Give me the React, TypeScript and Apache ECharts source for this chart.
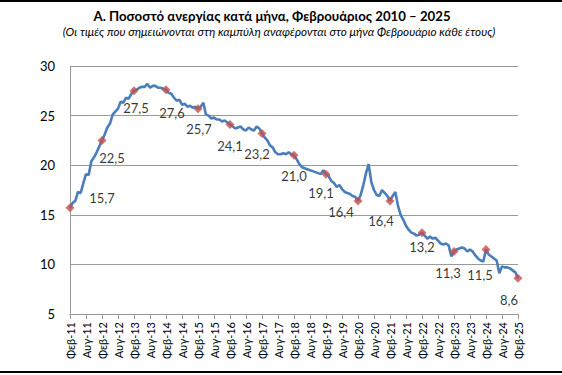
import React, { useEffect, useRef } from "react";
import * as echarts from "echarts";

// Monthly unemployment rate (%), Feb 2011 .. Feb 2025
const unemployment: number[] = [
  // Feb11 - Jan12
  15.7, 16.2, 16.4, 17.3, 17.2, 18.2, 19.1, 19.0, 20.4, 20.8, 21.3, 21.9,
  // Feb12 - Jan13
  22.5, 23.1, 23.8, 24.2, 25.1, 25.4, 25.7, 26.4, 26.3, 26.8, 26.7, 27.2,
  // Feb13 - Jan14
  27.5, 27.6, 27.8, 27.9, 27.9, 28.2, 27.8, 28.0, 28.0, 27.8, 27.8, 27.7,
  // Feb14 - Jan15
  27.6, 27.3, 27.2, 26.8, 26.5, 26.6, 26.1, 26.2, 25.9, 26.0, 25.8, 25.9,
  // Feb15 - Jan16
  25.7, 25.9, 26.3, 25.1, 25.0, 24.7, 24.8, 24.6, 24.6, 24.4, 24.5, 24.3,
  // Feb16 - Jan17
  24.1, 23.9, 23.7, 23.8, 23.9, 23.6, 23.5, 23.8, 23.6, 23.5, 23.9, 23.7,
  // Feb17 - Jan18
  23.2, 22.8, 22.5, 22.0, 21.8, 21.3, 21.1, 21.1, 21.2, 21.1, 21.3, 21.1,
  // Feb18 - Jan19
  21.0, 20.6, 20.1, 19.8, 19.7, 19.6, 19.5, 19.4, 19.3, 19.2, 19.1, 19.5,
  // Feb19 - Jan20
  19.1, 18.9, 18.4, 18.2, 17.8, 18.0, 17.6, 17.3, 17.2, 17.1, 16.9, 16.8,
  // Feb20 - Jan21
  16.4, 17.0, 18.0, 19.2, 20.1, 18.3, 17.5, 17.0, 16.9, 17.5, 17.2, 16.9,
  // Feb21 - Jan22
  16.4, 16.9, 17.3, 15.9, 15.0, 14.5, 13.9, 13.5, 13.2, 13.1, 12.9, 13.0,
  // Feb22 - Jan23
  13.2, 12.9, 12.6, 12.8, 12.6, 12.7, 12.4, 12.1, 12.0, 12.1, 11.9, 10.8,
  // Feb23 - Jan24
  11.3, 11.5, 11.6, 11.7, 11.6, 11.3, 11.5, 11.3, 10.9, 10.6, 10.4, 10.3,
  // Feb24 - Jan25
  11.5, 11.0, 10.8, 10.6, 10.4, 9.1, 9.8, 9.7, 9.7, 9.6, 9.4, 9.2,
  // Feb25
  8.6,
];

const monthNames = ["Ιαν", "Φεβ", "Μαρ", "Απρ", "Μαΐ", "Ιουν", "Ιουλ", "Αυγ", "Σεπ", "Οκτ", "Νοε", "Δεκ"];
const categories: string[] = unemployment.map((_, m) => {
  const k = m + 1;
  const yy = 11 + Math.floor(k / 12);
  return `${monthNames[k % 12]}-${yy}`;
});

// label offsets for February markers
const febLabelOffsets: [number, number][] = [
  [32, -10], [10, 18], [2, 17], [6, 23], [1, 20], [0, 21], [-5, 21], [0, 21],
  [-5, 19], [-17, 11], [-9, 20], [0, 14], [-6, 21], [-6, 25], [-9, 22],
];

const yTicks = { min: 5, max: 30, interval: 5 };

const titleText = "Α. Ποσοστό ανεργίας κατά μήνα, Φεβρουάριος 2010 – 2025";
const subtitleText = "(Οι τιμές που σημειώνονται στη καμπύλη αναφέρονται στο μήνα Φεβρουάριο κάθε έτους)";

export default function App() {
  const ref = useRef<HTMLDivElement>(null);
  useEffect(() => {
    if (!ref.current) return;
    const chart = echarts.init(ref.current, undefined, { renderer: "svg" });
    const febPoints = unemployment
      .map((v, i) => ({ v, i }))
      .filter((p) => p.i % 12 === 0)
      .map((p, k) => ({
        value: [p.i, p.v],
        label: { offset: febLabelOffsets[k] },
      }));
    const font = "Lato, 'Open Sans', sans-serif";
    chart.setOption({
      animation: false,
      textStyle: { fontFamily: font },
      title: [
        {
          text: titleText,
          left: 267,
          textAlign: "center",
          top: 4,
          textStyle: { fontFamily: font, fontSize: 13.2, fontWeight: "bold", color: "#000" },
        },
        {
          text: subtitleText,
          left: 274,
          textAlign: "center",
          top: 20,
          textStyle: { fontFamily: font, fontSize: 11.7, fontStyle: "italic", fontWeight: "normal", color: "#000" },
        },
      ],
      grid: { left: 70, right: 44, top: 66, bottom: 61 },
      xAxis: {
        type: "category",
        data: categories,
        boundaryGap: false,
        axisLine: { lineStyle: { color: "#9a9a9a", width: 1 } },
        axisTick: { interval: 5, length: 5, lineStyle: { color: "#9a9a9a" } },
        axisLabel: {
          interval: 5,
          rotate: 90,
          margin: 8,
          fontSize: 11,
          color: "#000",
          fontFamily: font,
        },
      },
      yAxis: {
        type: "value",
        min: yTicks.min,
        max: yTicks.max,
        interval: yTicks.interval,
        axisLine: { show: true, lineStyle: { color: "#9a9a9a", width: 1 } },
        axisTick: { show: false },
        axisLabel: { fontSize: 13, color: "#000", margin: 15, fontFamily: font },
        splitLine: { lineStyle: { color: "#9a9a9a", width: 1 } },
      },
      graphic: [
        { type: "rect", left: 0, top: 0, shape: { width: 562, height: 2 }, style: { fill: "#000" } },
        { type: "rect", left: 0, top: 371, shape: { width: 562, height: 2 }, style: { fill: "#000" } },
      ],
      series: [
        {
          type: "line",
          data: unemployment,
          showSymbol: false,
          symbol: "none",
          lineStyle: { color: "#4A7EBB", width: 2.6 },
          z: 2,
        },
        {
          type: "scatter",
          data: febPoints,
          symbol: "diamond",
          symbolSize: 9,
          itemStyle: { color: "#C0504D" },
          z: 3,
          label: {
            show: true,
            position: "inside",
            fontSize: 13,
            color: "#000",
            fontFamily: font,
            formatter: (p: any) => String(p.value[1].toFixed(1)).replace(".", ","),
          },
        },
      ],
    });
    return () => chart.dispose();
  }, []);
  return (
    <div
      ref={ref}
      style={{ position: "fixed", left: 0, top: 0, width: 562, height: 375, background: "#fff" }}
    />
  );
}
